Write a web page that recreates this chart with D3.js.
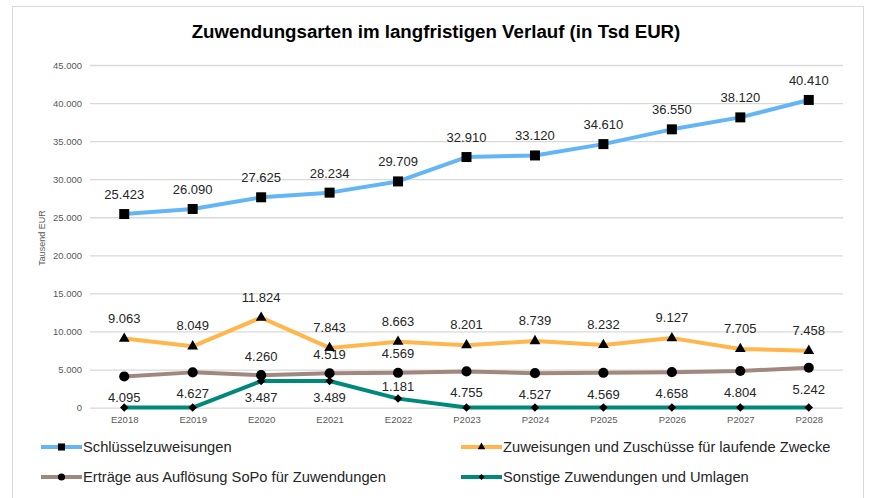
<!DOCTYPE html>
<html>
<head>
<meta charset="utf-8">
<script src="https://cdn.jsdelivr.net/npm/d3@7"></script>
<style>
  body { margin: 0; background: white; }
  text { font-family: "Liberation Sans", Arial, sans-serif; }
</style>
</head>
<body>
<div id="myVis"></div>
<script>
// data
const years = ["E2018","E2019","E2020","E2021","E2022","P2023","P2024","P2025","P2026","P2027","P2028"]
const schluessel = [25423, 26090, 27625, 28234, 29709, 32910, 33120, 34610, 36550, 38120, 40410]
const laufend = [9063, 8049, 11824, 7843, 8663, 8201, 8739, 8232, 9127, 7705, 7458]
const sopo = [4095, 4627, 4260, 4519, 4569, 4755, 4527, 4569, 4658, 4804, 5242]
const sonstige = [0, 0, 3487, 3489, 1181, 0, 0, 0, 0, 0, 0]
const yTicks = [0, 5000, 10000, 15000, 20000, 25000, 30000, 35000, 40000, 45000]
const seriesNames = ["Schlüsselzuweisungen", "Zuweisungen und Zuschüsse für laufende Zwecke",
  "Erträge aus Auflösung SoPo für Zuwendungen", "Sonstige Zuwendungen und Umlagen"]

const width = 872, height = 498

const svg = d3.select("#myVis")
  .append("svg")
    .attr("width", width)
    .attr("height", height)
    .style("background-color", "white")

// outer frame
svg.append("rect")
  .attr("x", 12.5).attr("y", 6.5)
  .attr("width", 851).attr("height", 500)
  .attr("fill", "none").attr("stroke", "#d9d9d9")

const x = d3.scalePoint().domain(years).range([90, 843]).padding(0.5)
const y = d3.scaleLinear().domain([0, 45000]).range([407.6, 65])

const fmt = d3.formatLocale({decimal: ",", thousands: ".", grouping: [3], currency: ["", "€"]}).format(",d")

// diamond = square turned by 45 degrees (excel style)
const rotSquare = {
  draw(context, size) {
    const r = Math.sqrt(size) / Math.SQRT2
    context.moveTo(0, -r)
    context.lineTo(r, 0)
    context.lineTo(0, r)
    context.lineTo(-r, 0)
    context.closePath()
  }
}

// title
svg.append("text")
  .attr("x", 436).attr("y", 38)
  .attr("text-anchor", "middle")
  .style("font-size", "18.7px").style("font-weight", "bold")
  .text("Zuwendungsarten im langfristigen Verlauf (in Tsd EUR)")

// grid + y axis
const yAxis = d3.axisLeft(y).tickValues(yTicks).tickSize(-(843 - 90)).tickPadding(8)
  .tickFormat(d => fmt(d))
const gy = svg.append("g").attr("transform", "translate(90,0)").call(yAxis)
gy.select(".domain").remove()
gy.selectAll("line").attr("stroke", "#d9d9d9").attr("stroke-width", 1.3)
gy.selectAll("text").style("font-size", "9.5px").attr("fill", "#595959")

// x axis labels
const xAxis = d3.axisBottom(x).tickSize(0).tickPadding(9)
const gx = svg.append("g").attr("transform", "translate(0,407.6)").call(xAxis)
gx.select(".domain").remove()
gx.selectAll("text").style("font-size", "9.5px").attr("fill", "#595959")

svg.append("text")
  .attr("transform", "translate(45,238) rotate(-90)")
  .attr("text-anchor", "middle")
  .style("font-size", "9px").attr("fill", "#595959")
  .text("Tausend EUR")

const series = [
  {name: seriesNames[0], values: schluessel, color: "#64B5F6", marker: d3.symbolSquare, size: 100,
   label: (v, i) => -15},
  {name: seriesNames[1], values: laufend, color: "#FFB74D", marker: d3.symbolTriangle, size: 50,
   label: (v, i) => -16},
  {name: seriesNames[2], values: sopo, color: "#A1887F", marker: d3.symbolCircle, size: 80,
   label: (v, i) => sonstige[i] > 0 ? -14.5 : 26},
  {name: seriesNames[3], values: sonstige, color: "#00897B", marker: rotSquare, size: 36,
   label: (v, i) => v === 0 ? null : (v > 2000 ? 21 : -7.5)}
]

const line = d3.line().x((d, i) => x(years[i])).y(d => y(d))

// lines first
series.forEach(s => {
  svg.append("path")
    .datum(s.values)
    .attr("d", line)
    .attr("fill", "none")
    .attr("stroke", s.color)
    .attr("stroke-width", 4)
    .attr("stroke-linejoin", "round")
})

series.forEach(s => {
  svg.append("g")
    .selectAll("path")
    .data(s.values)
    .enter()
    .append("path")
      .attr("d", d3.symbol().type(s.marker).size(s.size))
      .attr("transform", (d, i) => "translate(" + x(years[i]) + "," + y(d) + ")")
      .attr("fill", "black")
})

series.forEach(s => {
  svg.append("g")
    .selectAll("text")
    .data(s.values.map((v, i) => ({v: v, i: i, off: s.label(v, i)})).filter(d => d.off !== null))
    .enter()
    .append("text")
      .attr("x", d => x(years[d.i]))
      .attr("y", d => y(d.v) + d.off)
      .attr("text-anchor", "middle")
      .style("font-size", "13px")
      .attr("fill", "#262626")
      .text(d => fmt(d.v))
})

// legend
const legendPos = [[41, 447], [461, 447], [41, 477], [461, 477]]
series.forEach((s, k) => {
  const g = svg.append("g").attr("transform", "translate(" + legendPos[k][0] + "," + legendPos[k][1] + ")")
  g.append("line").attr("x1", 0).attr("x2", 41)
    .attr("stroke", s.color).attr("stroke-width", 4)
  g.append("path")
    .attr("d", d3.symbol().type(s.marker).size(s.size * 0.5))
    .attr("transform", "translate(20.5,0)")
    .attr("fill", "black")
  g.append("text")
    .attr("x", 42).attr("y", 5)
    .style("font-size", "14.7px")
    .attr("fill", "#262626")
    .text(s.name)
})
</script>
</body>
</html>
